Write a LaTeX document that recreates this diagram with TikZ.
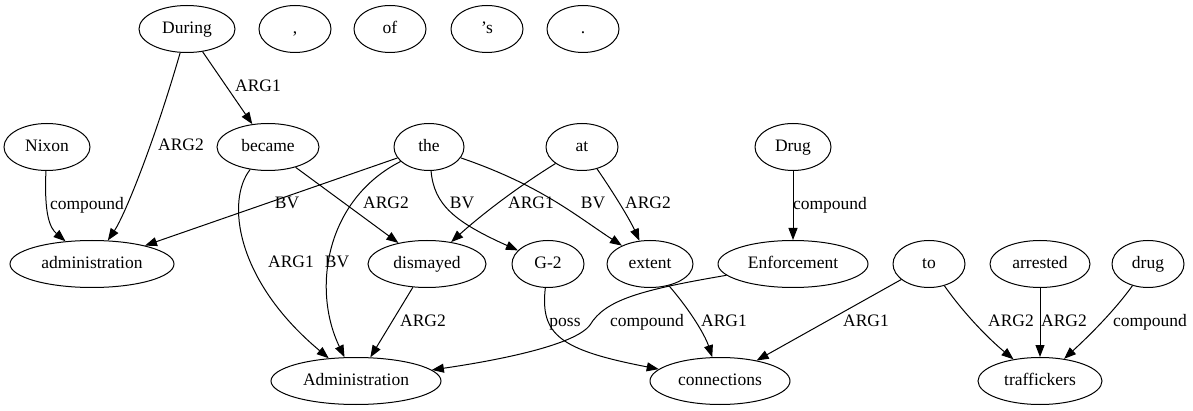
\documentclass[tikz,border=0pt]{standalone}
\usepackage{fontspec}
\setmainfont{Liberation Serif}
\usetikzlibrary{shapes.geometric,arrows.meta}
\begin{document}
\begin{tikzpicture}[x=1pt,y=-1pt,
  nd/.style={draw,ellipse,line width=1pt,inner sep=0pt,minimum height=47pt,text height=12.5pt,text depth=4pt,font=\fontsize{17.5}{20}\selectfont},
  lbl/.style={inner sep=0pt,text height=12.5pt,text depth=4pt,font=\fontsize{17.5}{20}\selectfont},
  ed/.style={line width=1pt,-{Triangle[length=12pt,width=9pt]}}]
\useasboundingbox (0,0) rectangle (1193,411);
% row 1
\node[nd,minimum width=96pt] (nDuring) at (187,29) {During};
\node[nd,minimum width=72pt] (ncomma) at (295,29) {,};
\node[nd,minimum width=72pt] (nof) at (390,29) {of};
\node[nd,minimum width=72pt] (ns) at (487,29) {’s};
\node[nd,minimum width=72pt] (nperiod) at (583,29) {.};
% row 2
\node[nd,minimum width=86pt] (nNixon) at (47,147) {Nixon};
\node[nd,minimum width=102pt] (nbecame) at (268,147) {became};
\node[nd,minimum width=70pt] (nthe) at (429,147) {the};
\node[nd,minimum width=72pt] (nat) at (582,147) {at};
\node[nd,minimum width=76pt] (nDrug) at (793,147) {Drug};
% row 3
\node[nd,minimum width=164pt] (nadmin) at (92,264) {administration};
\node[nd,minimum width=118pt] (ndismayed) at (427,264) {dismayed};
\node[nd,minimum width=72pt] (nG) at (548,264) {G-2};
\node[nd,minimum width=86pt] (nextent) at (650,264) {extent};
\node[nd,minimum width=150pt] (nEnf) at (793,264) {Enforcement};
\node[nd,minimum width=72pt] (nto) at (929,264) {to};
\node[nd,minimum width=100pt] (narrested) at (1040,264) {arrested};
\node[nd,minimum width=72pt] (ndrug) at (1148,264) {drug};
% row 4
\node[nd,minimum width=170pt] (nAdmin) at (356,381) {Administration};
\node[nd,minimum width=140pt] (nconn) at (720,381) {connections};
\node[nd,minimum width=124pt] (ntraff) at (1040,381) {traffickers};
% edges
\draw[ed] (nDuring) -- (nbecame);
\draw[ed] (nDuring) .. controls (155,140) and (125,215) .. (nadmin);
\draw[ed] (nNixon) .. controls (44,215) and (50,228) .. (nadmin);
\draw[ed] (nthe) -- (nadmin);
\draw[ed] (nbecame) .. controls (226,200) and (235,280) .. (nAdmin);
\draw[ed] (nthe) .. controls (325,200) and (312,290) .. (nAdmin);
\draw[ed] (nbecame) -- (ndismayed);
\draw[ed] (nthe) .. controls (434,205) and (455,222) .. (nG);
\draw[ed] (nthe) .. controls (540,185) and (575,215) .. (nextent);
\draw[ed] (nat) .. controls (505,195) and (470,225) .. (ndismayed);
\draw[ed] (nat) .. controls (615,195) and (630,220) .. (nextent);
\draw[ed] (nDrug) -- (nEnf);
\draw[ed] (ndismayed) -- (nAdmin);
\draw[ed] (nG) .. controls (540,335) and (560,350) .. (nconn);
\draw[ed] (nEnf) .. controls (640,290) and (605,300) .. (590,325) .. controls (575,345) and (500,360) .. (nAdmin);
\draw[ed] (nextent) .. controls (690,310) and (705,335) .. (nconn);
\draw[ed] (nto) -- (nconn);
\draw[ed] (nto) .. controls (965,315) and (990,340) .. (ntraff);
\draw[ed] (narrested) -- (ntraff);
\draw[ed] (ndrug) .. controls (1115,310) and (1090,335) .. (ntraff);
% labels
\node[lbl] (l1) at (258,87) {ARG1};
\node[lbl] (l2) at (181,146) {ARG2};
\node[lbl] (l3) at (87,205) {compound};
\node[lbl] (l4) at (287,204) {BV};
\node[lbl] (l5) at (386,204) {ARG2};
\node[lbl] (l6) at (291,263) {ARG1};
\node[lbl] (l7) at (337,263) {BV};
\node[lbl] (l8) at (462,204) {BV};
\node[lbl] (l9) at (531,204) {ARG1};
\node[lbl] (l10) at (593,204) {BV};
\node[lbl] (l11) at (648,204) {ARG2};
\node[lbl] (l12) at (830,205) {compound};
\node[lbl] (l13) at (423,322) {ARG2};
\node[lbl] (l14) at (565,322) {poss};
\node[lbl] (l15) at (647,322) {compound};
\node[lbl] (l16) at (724,322) {ARG1};
\node[lbl] (l17) at (866,322) {ARG1};
\node[lbl] (l18) at (1011,322) {ARG2};
\node[lbl] (l19) at (1064,322) {ARG2};
\node[lbl] (l20) at (1150,322) {compound};
\end{tikzpicture}
\end{document}
